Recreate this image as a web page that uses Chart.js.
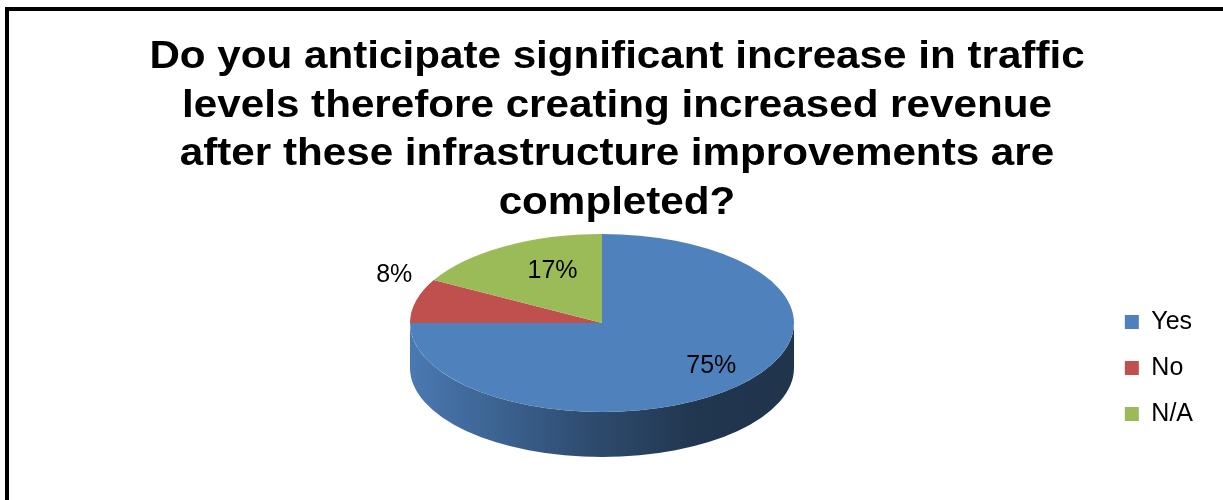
<!DOCTYPE html>
<html>
<head>
<meta charset="utf-8">
<title>Traffic survey</title>
<script src="https://cdn.jsdelivr.net/npm/chart.js@4.4.1/dist/chart.umd.min.js"></script>
<style>
  html, body { margin: 0; padding: 0; background: #fff; overflow: hidden; }
  #wrap { position: relative; width: 1223px; height: 500px; }
  #frame {
    position: absolute; left: 5px; top: 7px;
    width: 1300px; height: 600px;
    border: 4px solid #000; box-sizing: border-box;
  }
  #myChart { position: absolute; left: 0; top: 0; }
</style>
</head>
<body>
<div id="wrap">
  <div id="frame"></div>
  <canvas id="myChart" width="1223" height="500"></canvas>
</div>
<script>
const labels = ['Yes', 'No', 'N/A']
const values = [75, 8, 17]
const colors = ['#4F81BD', '#C0504D', '#9BBB59']
const titleLines = [
  'Do you anticipate significant increase in traffic',
  'levels therefore creating increased revenue',
  'after these infrastructure improvements are',
  'completed?'
]

const FONT = '"Liberation Sans", Arial, sans-serif'

// where the tilted pie sits on the canvas
const view = { cx: 602, cy: 323, rx: 192, ry: 89, depth: 45 }

function shade(hex, f) {
  const n = parseInt(hex.slice(1), 16)
  const r = Math.round(((n >> 16) & 255) * f)
  const g = Math.round(((n >> 8) & 255) * f)
  const b = Math.round((n & 255) * f)
  return `rgb(${r},${g},${b})`
}

// wide bold title, drawn by hand so it can be stretched sideways
const titleBlock = {
  id: 'titleBlock',
  afterDraw(chart) {
    const ctx = chart.ctx
    const stretch = 1.11
    const mid = 617
    ctx.save()
    ctx.font = `bold 38px ${FONT}`
    ctx.fillStyle = '#000'
    ctx.textAlign = 'center'
    ctx.textBaseline = 'alphabetic'
    ctx.scale(stretch, 1)
    titleLines.forEach((line, i) => {
      ctx.fillText(line, mid / stretch, 68 + i * 48.5)
    })
    ctx.restore()
  }
}

const pie3d = {
  id: 'pie3d',
  beforeDatasetsDraw(chart) {
    const ctx = chart.ctx
    const arcs = chart.getDatasetMeta(0).data
    this._active = false
    if (!arcs.length) return
    const { x, y, outerRadius } = arcs[0].getProps(['x', 'y', 'outerRadius'], true)

    // side wall: only the front half of the rim (0..PI) is visible
    const front = [[0, Math.PI], [2 * Math.PI, 3 * Math.PI], [-2 * Math.PI, -Math.PI]]
    arcs.forEach((arc, i) => {
      const { startAngle, endAngle } = arc.getProps(['startAngle', 'endAngle'], true)
      front.forEach(([lo, hi]) => {
        const a0 = Math.max(startAngle, lo)
        const a1 = Math.min(endAngle, hi)
        if (a1 <= a0) return
        const c = colors[i]
        const g = ctx.createLinearGradient(view.cx - view.rx, 0, view.cx + view.rx, 0)
        g.addColorStop(0, shade(c, 0.94))
        g.addColorStop(0.45, shade(c, 0.6))
        g.addColorStop(0.75, shade(c, 0.42))
        g.addColorStop(1, shade(c, 0.4))
        ctx.beginPath()
        ctx.ellipse(view.cx, view.cy, view.rx, view.ry, 0, a0, a1)
        ctx.ellipse(view.cx, view.cy + view.depth, view.rx, view.ry, 0, a1, a0, true)
        ctx.closePath()
        ctx.fillStyle = g
        ctx.fill()
      })
    })

    // squash the round pie into the top face
    ctx.save()
    ctx.translate(view.cx, view.cy)
    ctx.scale(view.rx / outerRadius, view.ry / outerRadius)
    ctx.translate(-x, -y)
    this._active = true
  },
  afterDatasetsDraw(chart) {
    if (!this._active) return
    const ctx = chart.ctx
    ctx.restore()

    const arcs = chart.getDatasetMeta(0).data
    const total = values.reduce((a, b) => a + b, 0)
    ctx.save()
    ctx.font = `25px ${FONT}`
    ctx.fillStyle = '#000'
    arcs.forEach((arc, i) => {
      const { startAngle, endAngle } = arc.getProps(['startAngle', 'endAngle'], true)
      const mid = (startAngle + endAngle) / 2
      const cos = Math.cos(mid)
      const sin = Math.sin(mid)
      const share = values[i] / total
      const text = Math.round(share * 100) + '%'
      let px, py
      if (share < 0.1) {
        // thin slices get their label outside the rim
        px = view.cx + view.rx * 1.02 * cos
        py = view.cy + view.ry * 1.02 * sin - 13
        ctx.textAlign = cos < 0 ? 'right' : 'left'
        ctx.textBaseline = sin < 0 ? 'bottom' : 'top'
      } else {
        px = view.cx + view.rx * 0.68 * cos + 17
        py = view.cy + view.ry * 0.68 * sin
        ctx.textAlign = 'center'
        ctx.textBaseline = 'middle'
      }
      ctx.fillText(text, px, py)
    })
    ctx.restore()
  }
}

const data = {
  labels: labels,
  datasets: [
    {
      data: values,
      backgroundColor: colors,
      borderWidth: 0
    }
  ]
}

const config = {
  type: 'pie',
  data: data,
  options: {
    responsive: false,
    devicePixelRatio: 1,
    animation: false,
    events: [],
    layout: { padding: { top: 236, right: 20 } },
    plugins: {
      title: { display: false },
      legend: {
        position: 'right',
        labels: {
          color: '#000',
          font: { family: FONT, size: 25 },
          boxWidth: 14,
          boxHeight: 14,
          padding: 21
        }
      },
      tooltip: { enabled: false }
    }
  },
  plugins: [pie3d, titleBlock]
}

const myChart = new Chart(document.getElementById('myChart'), config)
</script>
</body>
</html>
